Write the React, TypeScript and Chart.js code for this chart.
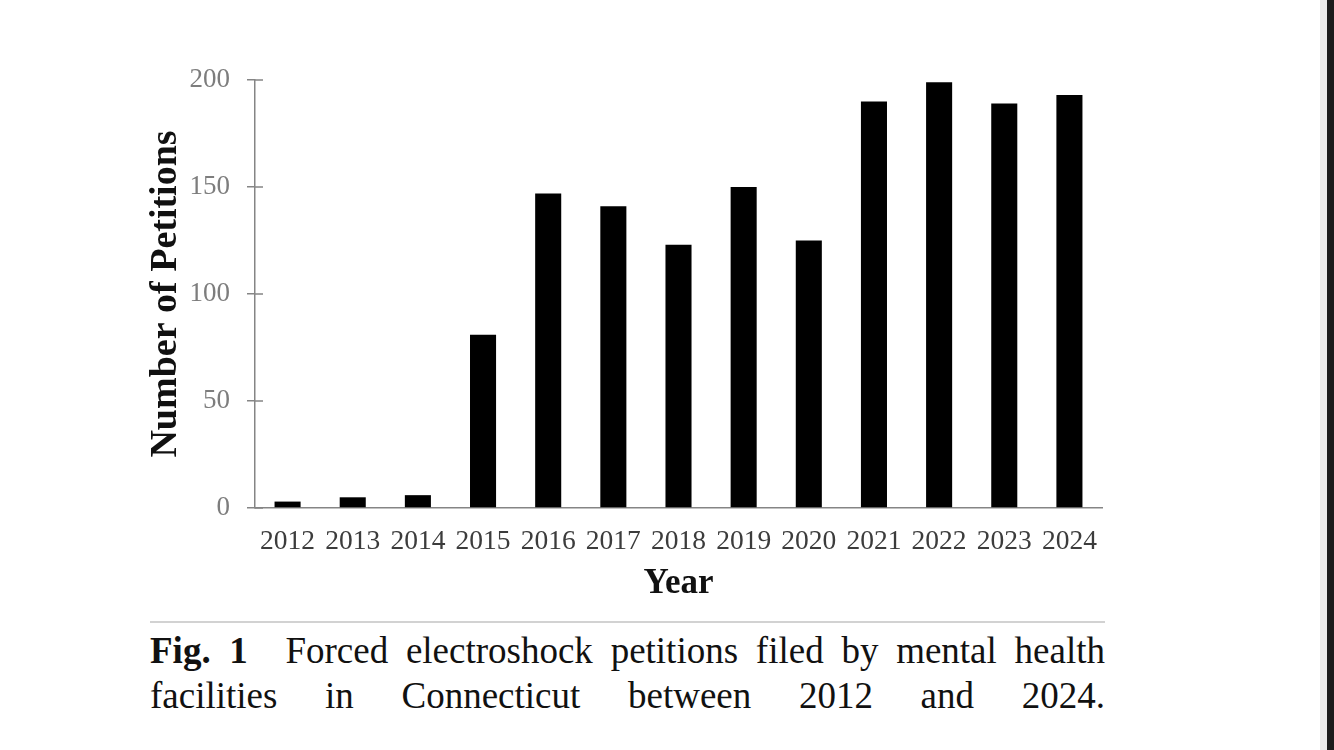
import React, { useEffect, useRef } from "react";
import { Chart, registerables } from "chart.js";

Chart.register(...registerables);

const years = ["2012", "2013", "2014", "2015", "2016", "2017", "2018", "2019", "2020", "2021", "2022", "2023", "2024"];
const petitions = [3, 5, 6, 81, 147, 141, 123, 150, 125, 190, 199, 189, 193];
const yTicks = [0, 50, 100, 150, 200];
const yTitle = "Number of Petitions";
const xTitle = "Year";
const captionLine1 = ["Forced", "electroshock", "petitions", "filed", "by", "mental", "health"];
const captionLine2 = ["facilities", "in", "Connecticut", "between", "2012", "and", "2024."];

const SERIF = "'Liberation Serif', 'Times New Roman', serif";

const innerTicks = {
  id: "innerTicks",
  afterDraw(chart: any) {
    const s = chart.scales.y;
    const ctx = chart.ctx;
    ctx.save();
    ctx.strokeStyle = "#858585";
    ctx.lineWidth = 1.5;
    s.ticks.forEach((t: any) => {
      const y = s.getPixelForValue(t.value);
      ctx.beginPath();
      ctx.moveTo(s.right, y);
      ctx.lineTo(s.right + 8, y);
      ctx.stroke();
    });
    ctx.restore();
  },
};

export default function App() {
  const ref = useRef<HTMLCanvasElement>(null);
  useEffect(() => {
    if (!ref.current) return;
    const chart = new Chart(ref.current, {
      type: "bar",
      data: {
        labels: years,
        datasets: [
          {
            data: petitions,
            backgroundColor: "#000000",
            borderWidth: 0,
            barPercentage: 0.4,
            categoryPercentage: 1,
          },
        ],
      },
      options: {
        animation: false,
        responsive: true,
        maintainAspectRatio: false,
        layout: { padding: { left: 140, right: 232, top: 80, bottom: 7 } },
        plugins: { legend: { display: false }, tooltip: { enabled: false } },
        scales: {
          x: {
            grid: { display: false, drawTicks: false },
            border: { display: true, color: "#858585", width: 1.5 },
            ticks: { font: { family: SERIF, size: 27.5 }, color: "#3c3c3c", padding: 17, maxRotation: 0, autoSkip: false },
            title: { display: true, text: xTitle, font: { family: SERIF, size: 35, weight: "bold" }, color: "#111", padding: { top: 0, bottom: 3 } },
            afterFit(scale: any) {
              scale.height = 100;
            },
          },
          y: {
            min: 0,
            max: 200,
            afterBuildTicks(scale: any) {
              scale.ticks = yTicks.map((v) => ({ value: v }));
            },
            grid: { display: true, drawOnChartArea: false, drawTicks: true, tickLength: 8, color: "#858585", lineWidth: 1.5 },
            border: { display: true, color: "#858585", width: 1.5 },
            ticks: { font: { family: SERIF, size: 27 }, color: "#7d7d7d", padding: 17 },
            title: { display: true, text: yTitle, font: { family: SERIF, size: 38, weight: "bold" }, color: "#111", padding: { top: 3, bottom: 0 } },
            afterFit(scale: any) {
              scale.width = 115;
            },
          },
        },
      },
      plugins: [innerTicks],
    });
    return () => chart.destroy();
  }, []);

  const lineStyle: React.CSSProperties = {
    position: "absolute",
    left: 150,
    width: 955,
    display: "flex",
    justifyContent: "space-between",
    fontFamily: SERIF,
    fontSize: 37,
    lineHeight: "45px",
    color: "#111",
    whiteSpace: "nowrap",
  };

  return (
    <div style={{ position: "fixed", left: 0, top: 0, width: 1334, height: 750, background: "#fff", overflow: "hidden" }}>
      <div style={{ position: "absolute", left: 0, top: 0, width: 1334, height: 615 }}>
        <canvas ref={ref} />
      </div>
      <div style={{ position: "absolute", left: 150, top: 621, width: 955, height: 1.5, background: "#d2d2d2" }} />
      <div style={{ ...lineStyle, top: 628 }}>
        <b style={{ marginRight: 20 }}>Fig.&nbsp;&nbsp;1</b>
        {captionLine1.map((w) => (
          <span key={w}>{w}</span>
        ))}
      </div>
      <div style={{ ...lineStyle, top: 673 }}>
        {captionLine2.map((w) => (
          <span key={w}>{w}</span>
        ))}
      </div>
      <div style={{ position: "absolute", left: 1320, top: 0, width: 7, height: 750, background: "#ebebeb" }} />
      <div style={{ position: "absolute", left: 1327, top: 0, width: 7, height: 750, background: "#1c1c1c" }} />
    </div>
  );
}
